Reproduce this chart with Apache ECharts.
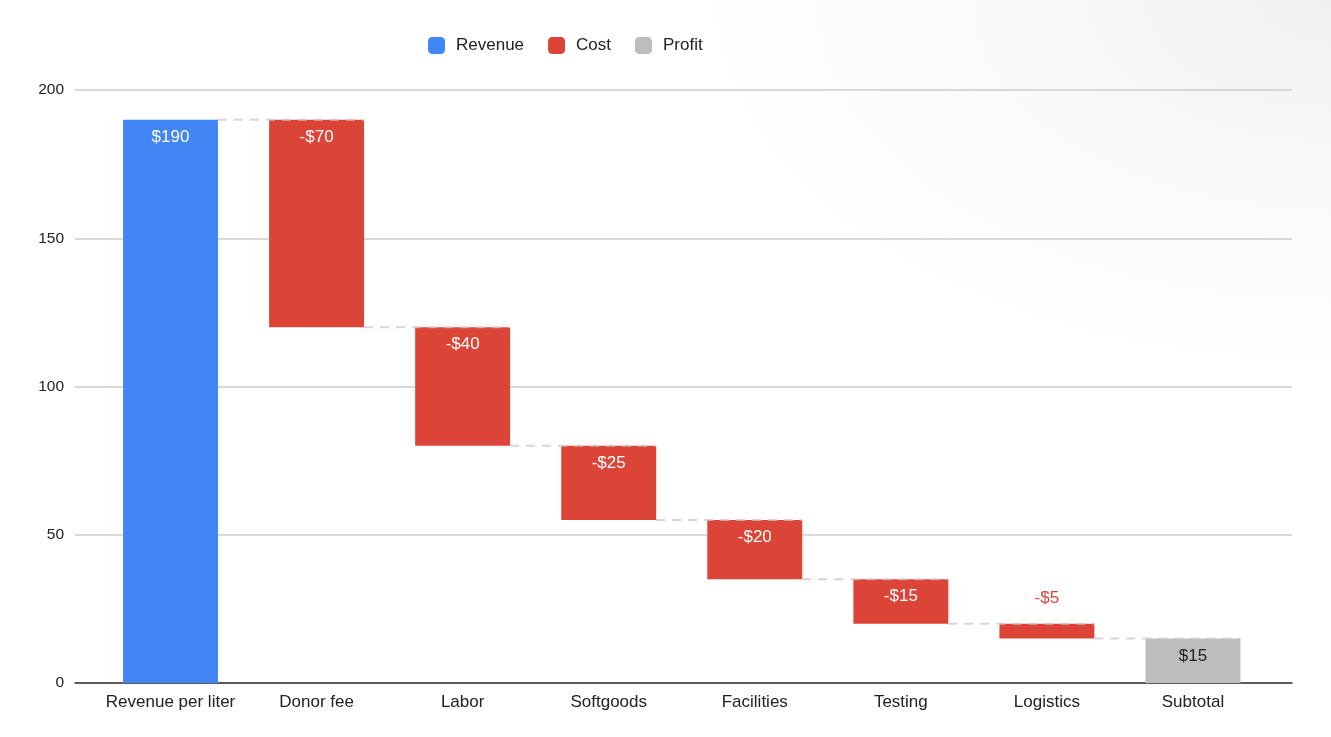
<!DOCTYPE html>
<html>
<head>
<meta charset="utf-8">
<script src="https://cdn.jsdelivr.net/npm/echarts@6/dist/echarts.min.js"></script>
<style>
html,body{margin:0;padding:0;width:1331px;height:737px;overflow:hidden;
background:radial-gradient(ellipse 650px 380px at 100% 0%, #f0f0f0 0%, #f9f9f9 45%, #ffffff 100%);}
#chart{width:1331px;height:737px;}
</style>
</head>
<body>
<div id="chart"></div>
<script>
var categories = ['Revenue per liter', 'Donor fee', 'Labor', 'Softgoods', 'Facilities', 'Testing', 'Logistics', 'Subtotal'];
var changes = [190, -70, -40, -25, -20, -15, -5, 15];
var kinds = ['Revenue', 'Cost', 'Cost', 'Cost', 'Cost', 'Cost', 'Cost', 'Profit'];
var yTicks = [0, 50, 100, 150, 200];
var colors = { Revenue: '#4285F4', Cost: '#DB4437', Profit: '#BDBDBD' };

// derive stacked base/heights
var base = [], running = 0, levels = [];
for (var i = 0; i < changes.length; i++) {
  var k = kinds[i];
  if (k === 'Profit') { base.push(0); running = changes[i]; }
  else if (changes[i] >= 0) { base.push(running); running += changes[i]; }
  else { running += changes[i]; base.push(running); }
  levels.push(running);
}
function seriesData(kind) {
  return changes.map(function (v, i) { return kinds[i] === kind ? Math.abs(v) : '-'; });
}
function fmt(p) {
  var v = changes[p.dataIndex];
  return (v < 0 ? '-$' : '$') + Math.abs(v);
}
var connectors = [];
for (var j = 0; j < categories.length - 1; j++) connectors.push([j, levels[j]]);

var font = 'Liberation Sans, Arial, sans-serif';
var chart = echarts.init(document.getElementById('chart'));
var costData = seriesData('Cost').map(function (v, i) {
  if (v !== '-' && v < 8) {
    return { value: v, label: { position: 'top', distance: 17, color: colors.Cost } };
  }
  return v;
});
chart.setOption({
  animation: false,
  textStyle: { fontFamily: font },
  legend: {
    left: 423, top: 32,
    itemWidth: 17, itemHeight: 17, itemGap: 24,
    icon: 'roundRect',
    textStyle: { fontSize: 17, color: '#222', fontFamily: font, padding: [0, 0, 0, 6] },
    data: ['Revenue', 'Cost', 'Profit']
  },
  grid: [
    { left: 97.5, right: 65, top: 90, bottom: 54 },
    { left: 75, right: 39, top: 90, bottom: 54 }
  ],
  xAxis: [
    { type: 'category', gridIndex: 0, data: categories,
      axisLine: { show: false }, axisTick: { show: false },
      axisLabel: { fontSize: 17, color: '#222', margin: 11, fontFamily: font, interval: 0 } },
    { type: 'value', gridIndex: 1, min: 0, max: 1, show: true,
      axisLine: { show: true, onZero: false, lineStyle: { color: '#333', width: 1.5 } },
      axisTick: { show: false }, axisLabel: { show: false }, splitLine: { show: false } }
  ],
  yAxis: [
    { type: 'value', gridIndex: 0, min: yTicks[0], max: yTicks[yTicks.length - 1], show: false },
    { type: 'value', gridIndex: 1, min: yTicks[0], max: yTicks[yTicks.length - 1], interval: 50,
      axisLine: { show: false }, axisTick: { show: false },
      axisLabel: { fontSize: 15.5, color: '#222', margin: 11, fontFamily: font },
      splitLine: { lineStyle: { color: '#cccccc', width: 1.5 } } }
  ],
  series: [
    { name: 'base', type: 'bar', stack: 'w', xAxisIndex: 0, yAxisIndex: 0, barWidth: '65%',
      itemStyle: { color: 'transparent' }, emphasis: { disabled: true }, data: base, silent: true },
    { name: 'Revenue', type: 'bar', stack: 'w', xAxisIndex: 0, yAxisIndex: 0, barWidth: '65%',
      itemStyle: { color: colors.Revenue },
      label: { show: true, position: 'insideTop', distance: 9, color: '#fff', fontSize: 17, formatter: fmt },
      data: seriesData('Revenue') },
    { name: 'Cost', type: 'bar', stack: 'w', xAxisIndex: 0, yAxisIndex: 0, barWidth: '65%',
      itemStyle: { color: colors.Cost },
      label: { show: true, position: 'insideTop', distance: 9, color: '#fff', fontSize: 17, formatter: fmt },
      data: costData },
    { name: 'Profit', type: 'bar', stack: 'w', xAxisIndex: 0, yAxisIndex: 0, barWidth: '65%',
      itemStyle: { color: colors.Profit },
      label: { show: true, position: 'insideTop', distance: 9, color: '#222', fontSize: 17, formatter: fmt },
      data: seriesData('Profit') },
    { name: 'connectors', type: 'custom', xAxisIndex: 0, yAxisIndex: 0, z: 5, silent: true,
      data: connectors,
      renderItem: function (params, api) {
        var i = api.value(0), lv = api.value(1);
        var band = api.size([1, 0])[0];
        var half = band * 0.65 / 2;
        var p1 = api.coord([i, lv]);
        var p2 = api.coord([i + 1, lv]);
        return {
          type: 'line',
          shape: { x1: p1[0] + half, y1: p1[1], x2: p2[0] + half, y2: p2[1] },
          style: { stroke: 'rgba(200,200,200,0.75)', lineWidth: 2, lineDash: [9, 7] }
        };
      }
    }
  ]
});
</script>
</body>
</html>
